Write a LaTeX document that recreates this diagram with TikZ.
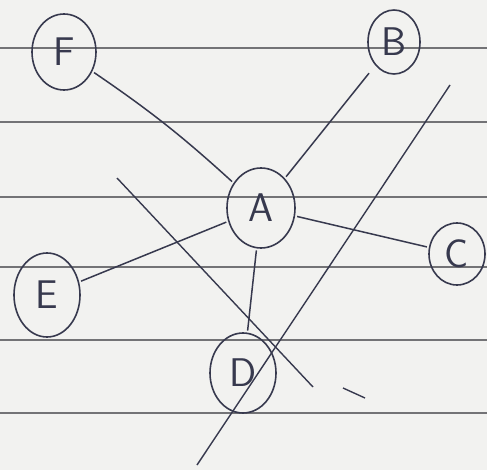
\documentclass[tikz,border=0pt]{standalone}
\usepackage{tikz}
\usetikzlibrary{shapes.geometric,positioning,calc}

\definecolor{paper}{RGB}{242,242,240}
\definecolor{rule}{RGB}{115,115,118}
\definecolor{ink}{RGB}{55,57,78}

\begin{document}
\begin{tikzpicture}[
    x=1pt, y=-1pt,
    font=\fontsize{40}{40}\sffamily,
    vert/.style 2 args={
        ellipse,
        draw=ink,
        text=ink,
        line width=1.6pt,
        minimum width=#1,
        minimum height=#2,
        inner sep=0pt
    },
    link/.style={draw=ink, line width=1.5pt, shorten <=2pt, shorten >=2pt},
    stroke/.style={draw=ink, line width=1.4pt}
]

%-----------------------------------
% Paper
%-----------------------------------
\fill[paper] (0,0) rectangle (487,470);
\useasboundingbox (0,0) rectangle (487,470);
\foreach \yy in {48,122,197,267,340,413}
    \draw[rule, line width=1.4pt] (0,\yy) -- (487,\yy);

%-----------------------------------
% Vertices
%-----------------------------------
\node[vert={64pt}{76pt}] (F) at (64,52)  {F};
\node[vert={52pt}{64pt}] (B) at (394,42) {B};
\node[vert={68pt}{80pt}] (A) at (261,208) {A};
\node[vert={56pt}{62pt}] (C) at (457,254) {C};
\node[vert={66pt}{84pt}] (E) at (47,295) {E};
\node[vert={66pt}{80pt}] (D) at (243,373) {D};

%-----------------------------------
% Edges
%-----------------------------------
\draw[link] (F) to[bend left=4] (A);
\draw[link, shorten <=10pt] (B) -- (A);
\draw[link] (A) -- (C);
\draw[link] (A) -- (E);
\draw[link] (A) -- (D);

%-----------------------------------
% Crossing strokes
%-----------------------------------
\coordinate (p1) at (117,178);
\coordinate (p2) at (313,387);
\coordinate (q1) at (450,85);
\coordinate (q2) at (197,465);
\coordinate (r1) at (343,388);
\coordinate (r2) at (365,398);

\draw[stroke] (p1) -- (p2);
\draw[stroke] (q1) -- (q2);
\draw[stroke] (r1) -- (r2);

\end{tikzpicture}
\end{document}
